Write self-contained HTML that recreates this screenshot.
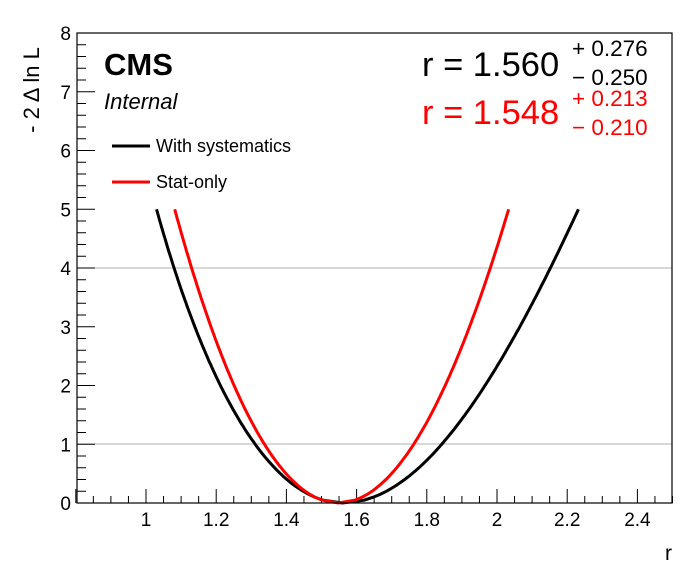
<!DOCTYPE html>
<html><head><meta charset="utf-8"><style>
body{margin:0;background:#fff;}
svg{display:block;font-family:"Liberation Sans",sans-serif;}
</style></head><body>
<svg id="s" width="696" height="572" xmlns="http://www.w3.org/2000/svg">
<rect width="696" height="572" fill="#fff"/>
<line x1="77" y1="268" x2="672" y2="268" stroke="#b0b0b0" stroke-width="1"/>
<line x1="77" y1="444" x2="672" y2="444" stroke="#b0b0b0" stroke-width="1"/>
<g id="ticks" stroke="#000" stroke-width="1"></g>
<path id="blk" fill="none" stroke="#000" stroke-width="3"/>
<path id="red" fill="none" stroke="#f00" stroke-width="3"/>
<rect x="77" y="33" width="595" height="470" fill="none" stroke="#000" stroke-width="1.2"/>
<g id="lab" font-size="19" fill="#000"></g>
<text x="672" y="560" font-size="21" text-anchor="end">r</text>
<text transform="translate(39,268) rotate(-90)" font-size="22" text-anchor="middle" x="178">- 2 Δ ln L</text>
<text x="104" y="75" font-size="31" font-weight="bold">CMS</text>
<text x="104" y="109" font-size="22" font-style="italic">Internal</text>
<line x1="112" y1="146" x2="150" y2="146" stroke="#000" stroke-width="3"/>
<text x="156" y="152" font-size="18">With systematics</text>
<line x1="112" y1="182" x2="150" y2="182" stroke="#f00" stroke-width="3"/>
<text x="156" y="188" font-size="18">Stat-only</text>
<text x="422" y="76" font-size="34.5">r = 1.560</text>
<text x="572" y="56" font-size="22.5">+ 0.276</text>
<text x="572" y="85" font-size="22.5">− 0.250</text>
<text x="422" y="124" font-size="34.5" fill="#f00">r = 1.548</text>
<text x="572" y="106" font-size="22.5" fill="#f00">+ 0.213</text>
<text x="572" y="135" font-size="22.5" fill="#f00">− 0.210</text>
</svg>
<script>
var X=function(r){return 146+(r-1)*351;},Y=function(v){return 503-v*58.75;};
var t=document.getElementById('ticks'),l=document.getElementById('lab'),h='',lh='';
for(var i=0;i<=34;i++){var r=0.8+i*0.05;var x=X(r);if(x>672.5)break;var maj=(Math.round(r*100)%20==0);h+='<line x1="'+x+'" y1="503" x2="'+x+'" y2="'+(503-(maj?14:7))+'"/>';if(maj&&r>0.95)lh+='<text x="'+x+'" y="526" text-anchor="middle">'+(Math.round(r*10)/10)+'</text>';}
for(var i=0;i<=40;i++){var v=i*0.2,y=Y(v);var maj=(i%5==0);h+='<line x1="77" y1="'+y+'" x2="'+(77+(maj?18:9))+'" y2="'+y+'"/>';if(maj)lh+='<text x="71" y="'+(y+7)+'" text-anchor="end">'+(i/5)+'</text>';}
t.innerHTML=h;l.innerHTML=lh;
function curve(c,sl,sr,ymax){var p=[];for(var v=ymax;v>=0;v-=0.05){var s=sl(v);p.push([X(c-s*Math.sqrt(v)),Y(v)]);}for(var v=0.05;v<=ymax+1e-9;v+=0.05){var s=sr(v);p.push([X(c+s*Math.sqrt(v)),Y(v)]);}return 'M'+p.map(function(q){return q[0].toFixed(1)+','+q[1].toFixed(1)}).join('L');}
document.getElementById('blk').setAttribute('d',curve(1.56,function(v){return 0.252-0.003*v;},function(v){return 0.278+0.0045*v;},5));
document.getElementById('red').setAttribute('d',curve(1.548,function(v){return 0.211-0.0005*v;},function(v){return 0.214+0.0006*v;},5));
</script>
</body></html>
